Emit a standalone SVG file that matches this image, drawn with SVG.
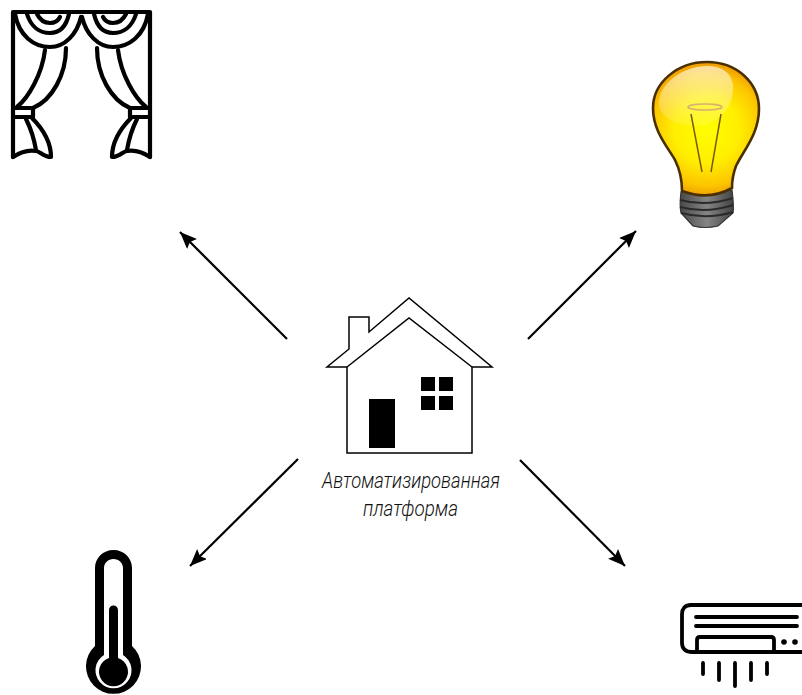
<svg xmlns="http://www.w3.org/2000/svg" width="802" height="695" viewBox="0 0 802 695">
<style>
.k{fill:none;stroke:#000;stroke-linecap:round;stroke-linejoin:round}
.c{stroke-width:4.200}
.i{filter:url(#soft)}
.a{fill:none;stroke:#000;stroke-width:2.2;marker-end:url(#ah)}
.t{font-family:Roboto,"Liberation Sans",sans-serif;font-style:italic;font-weight:300;font-size:22px;fill:#111}
</style>
<defs>
<filter id="soft" x="-5%" y="-5%" width="110%" height="110%"><feGaussianBlur stdDeviation="0.45"/></filter>
<marker id="ah" markerUnits="userSpaceOnUse" markerWidth="20" markerHeight="16" refX="17" refY="7" orient="auto"><path d="M0 0L17 7L0 14L3 7Z" fill="#000"/></marker>
<radialGradient id="bg" gradientUnits="userSpaceOnUse" cx="707" cy="130" r="66"><stop offset="0" stop-color="#ffff00"/><stop offset=".5" stop-color="#ffee00"/><stop offset=".85" stop-color="#fcc400"/><stop offset="1" stop-color="#f0a000"/></radialGradient>
<linearGradient id="hl" x1="0" y1="0" x2="0" y2="1"><stop offset="0" stop-color="#fff" stop-opacity=".62"/><stop offset="1" stop-color="#fff" stop-opacity=".1"/></linearGradient>
<linearGradient id="base" x1="0" y1="0" x2="1" y2="0"><stop offset="0" stop-color="#4a4a4a"/><stop offset=".5" stop-color="#858585"/><stop offset="1" stop-color="#444"/></linearGradient>
<g id="half">
<path class="k c" d="M13 157V12H82"/>
<path class="k c" d="M15 14C19 36 34 47 50 47C65 47 77 34 81 17"/>
<path class="k c" d="M27 14C31 27 40 33 50 33C59 33 66 27 69 14"/>
<path class="k c" d="M37 14C40 20 45 23 50 23C55 23 58 21 60 17"/>
<path class="k c" d="M66 48C66 75 52 100 33 108"/>
<path class="k c" d="M45 50C42 75 28 98 17 107"/>
<path class="k c" d="M14 108H33V117H14"/>
<path class="k c" d="M32 118C44 130 51 142 51 157C43 157 40 151 36 151C30 150 22 151 13 157"/>
<path class="k c" d="M26 119C30 127 34 138 36 150"/>
</g>
</defs>
<g id="connectors">
<line class="a" x1="287" y1="339" x2="180" y2="232"/>
<line class="a" x1="528" y1="339" x2="636" y2="231"/>
<line class="a" x1="298" y1="459" x2="190" y2="566"/>
<line class="a" x1="520" y1="460" x2="625" y2="566"/>
</g>
<g id="curtain" class="i">
<use href="#half"/>
<use href="#half" transform="translate(163 0) scale(-1 1)"/>
</g>
<g id="bulb">
<path d="M681 192C680 200 680 208 681 213L693 226Q705 229 718 226L733 213C734 207 733 198 732 190Z" fill="url(#base)" stroke="#333" stroke-width="1.2"/>
<path d="M680 200Q706 207 733 198M680 207Q706 214 733 205M681 213Q706 220 733 212" stroke="#2a2a2a" stroke-width="2" fill="none"/>
<path d="M707 62C737 62 759 83 759 109C759 134 743 151 736 166C733 174 732 182 732 188C716 197 698 197 682 191C682 179 680 170 675 160C667 146 653 131 653 108C653 83 677 62 707 62Z" fill="url(#bg)" stroke="#4a3000" stroke-width="2.6"/>
<path d="M707 66C683 66 658 84 659 104C660 118 678 127 698 126C722 124 734 104 733 86C732 73 722 66 707 66Z" fill="url(#hl)"/>
<ellipse cx="705" cy="107" rx="17" ry="3" fill="none" stroke="#d9b070" stroke-width="1.6"/>
<path d="M691 114L702 172M721 114L711 172" stroke="#7a5a10" stroke-width="1.5" fill="none"/>
</g>
<g id="house">
<path fill="#fff" stroke="#000" stroke-width="1.5" d="M347 367H327L349 349V317H369V332L409 298L492 367H472V453H347Z"/>
<path d="M347 367L409 318L472 367" fill="none" stroke="#000" stroke-width="1.5"/>
<rect x="369" y="399" width="26" height="49"/>
<rect x="421" y="377" width="14" height="14"/>
<rect x="439" y="377" width="14" height="14"/>
<rect x="421" y="396" width="14" height="14"/>
<rect x="439" y="396" width="14" height="14"/>
<text class="t" x="322" y="488" textLength="178" lengthAdjust="spacingAndGlyphs">Автоматизированная</text>
<text class="t" x="363" y="516" textLength="95" lengthAdjust="spacingAndGlyphs">платформа</text>
</g>
<g id="thermometer" class="i">
<path d="M95 646V568C95 558 103 550 113.500 550C124 550 132 558 132 568V646A27.500 27.500 0 1 1 95 646Z" fill="#000"/>
<path d="M104 655V568C104 563 108 559 113.500 559C119 559 123 563 123 568V655A18 18 0 1 1 104 655Z" fill="#fff"/>
<path d="M109 610A4.500 4.500 0 0 1 118 610V658A14.500 14.500 0 1 1 109 658Z" fill="#000"/>
</g>
<g id="ac" class="i">
<path class="k" stroke-width="3.800" d="M802 605H691C685 605 682 609 682 614V643C682 649 686 652 692 652H802"/>
<path class="k" stroke-width="3.800" d="M696 617H797M696 626H797"/>
<path class="k" stroke-width="3.800" d="M697 652V640C697 638 698 637 700 637H771C773 637 774 638 774 640V652"/>
<circle cx="784" cy="642" r="2.800"/><circle cx="795" cy="642" r="2.800"/>
<path class="k" stroke-width="3.800" d="M703 663V674M719 663V680M735 663V686M751 663V680M767 663V674"/>
</g>
</svg>
